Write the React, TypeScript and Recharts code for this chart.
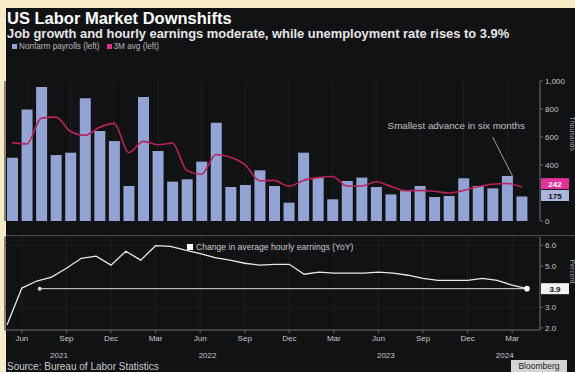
import React from "react";
import {
  ComposedChart,
  LineChart,
  Bar,
  Line,
  XAxis,
  YAxis,
  CartesianGrid,
  ReferenceLine,
  ReferenceDot,
} from "recharts";

const months = [
  "May 2021", "Jun 2021", "Jul 2021", "Aug 2021", "Sep 2021", "Oct 2021", "Nov 2021", "Dec 2021",
  "Jan 2022", "Feb 2022", "Mar 2022", "Apr 2022", "May 2022", "Jun 2022", "Jul 2022", "Aug 2022",
  "Sep 2022", "Oct 2022", "Nov 2022", "Dec 2022", "Jan 2023", "Feb 2023", "Mar 2023", "Apr 2023",
  "May 2023", "Jun 2023", "Jul 2023", "Aug 2023", "Sep 2023", "Oct 2023", "Nov 2023", "Dec 2023",
  "Jan 2024", "Feb 2024", "Mar 2024", "Apr 2024",
];

// Change in nonfarm payrolls, thousands
const payrolls = [
  452, 797, 957, 471, 488, 876, 643, 571, 250, 886, 500, 281, 298, 424, 702, 243, 257, 362,
  250, 131, 488, 310, 155, 286, 310, 243, 190, 214, 250, 171, 179, 305, 250, 233, 321, 175,
];

// Three-month average of payrolls, thousands
const avg3 = [
  560, 550, 735, 742, 639, 612, 669, 697, 488, 569, 545, 556, 360, 334, 475, 456, 401, 287,
  290, 248, 290, 310, 318, 250, 250, 280, 248, 216, 218, 212, 200, 218, 245, 263, 268, 242,
];

// Average hourly earnings, % YoY
const earnings = [
  2.14, 3.93, 4.27, 4.46, 4.89, 5.37, 5.47, 5.04, 5.71, 5.28, 5.98, 5.95, 5.76, 5.6, 5.4, 5.28,
  5.13, 5.04, 5.08, 5.08, 4.6, 4.7, 4.65, 4.65, 4.65, 4.7, 4.65, 4.55, 4.4, 4.3, 4.3, 4.3, 4.4,
  4.3, 4.07, 3.9,
];

const monthTickIdx = [1, 4, 7, 10, 13, 16, 19, 22, 25, 28, 31, 34];
const yearTickPos = [3.5, 13.5, 25.5, 33.5];
const yearLabels = ["2021", "2022", "2023", "2024"];
const payrollTicks = [0, 400, 600, 800, 1000];
const earningsTicks = [2, 3, 5, 6];

const data = months.map((m, i) => ({
  i,
  m,
  payrolls: payrolls[i],
  avg3: avg3[i],
  earnings: earnings[i],
}));

const last = data.length - 1;

const BG = "#111214";
const FONT = "'Liberation Sans', Arial, sans-serif";
const TICK = { fill: "#c8c8c8", fontSize: 8, fontFamily: FONT };
const BAR = "#93a3d4";
const PINK = "#b8235e";

const makeBox =
  (text: string, bg: string, fg: string, dy: number) =>
  (props: any) => {
    const vb = props.viewBox || {};
    const x = (vb.x || 0) + (vb.width || 0) + 1;
    const y = (vb.y || 0) + dy;
    return (
      <g>
        <rect x={x} y={y - 5.5} width={28} height={11} fill={bg} />
        <text
          x={x + 14}
          y={y + 3}
          textAnchor="middle"
          fontSize={8}
          fontFamily={FONT}
          fontWeight="bold"
          fill={fg}
        >
          {text}
        </text>
      </g>
    );
  };

export default function App() {
  return (
    <div
      style={{
        position: "fixed",
        left: 0,
        top: 0,
        width: 575,
        height: 372,
        background: "#f8ebc8",
        overflow: "hidden",
        fontFamily: FONT,
      }}
    >
      <div
        style={{
          position: "absolute",
          left: 6,
          top: 8,
          width: 569,
          height: 364,
          background: BG,
        }}
      />
      <div
        style={{
          position: "absolute",
          left: 7,
          top: 11,
          color: "#ffffff",
          fontWeight: "bold",
          fontSize: 16.5,
          lineHeight: "15px",
          whiteSpace: "nowrap",
        }}
      >
        US Labor Market Downshifts
      </div>
      <div
        style={{
          position: "absolute",
          left: 7,
          top: 28,
          color: "#e6e6e6",
          fontWeight: "bold",
          fontSize: 12.9,
          lineHeight: "12px",
          whiteSpace: "nowrap",
        }}
      >
        Job growth and hourly earnings moderate, while unemployment rate rises to 3.9%
      </div>
      <div
        style={{
          position: "absolute",
          left: 12,
          top: 42,
          color: "#b8b8b8",
          fontSize: 8.2,
          lineHeight: "9px",
          whiteSpace: "nowrap",
          display: "flex",
          alignItems: "center",
        }}
      >
        <span style={{ width: 5, height: 5, background: BAR, display: "inline-block", marginRight: 2 }} />
        <span>Nonfarm payrolls (left)</span>
        <span
          style={{ width: 5, height: 5, background: "#e0308a", display: "inline-block", marginLeft: 7, marginRight: 2 }}
        />
        <span>3M avg (left)</span>
      </div>

      <div style={{ position: "absolute", left: 0, top: 0 }}>
        <ComposedChart width={575} height={230} data={data} margin={{ top: 81, right: 0, left: 5, bottom: 9 }}>
          <CartesianGrid stroke="#1e1f22" horizontal={false} />
          <XAxis
            dataKey="i"
            type="number"
            domain={[-0.5, 35.5]}
            ticks={monthTickIdx}
            padding={{ left: 0, right: 11 }}
            hide
          />
          <YAxis
            orientation="right"
            domain={[0, 1000]}
            ticks={payrollTicks}
            width={35}
            tick={TICK}
            tickSize={3}
            tickMargin={2}
            stroke="#6a6a6a"
            tickFormatter={(v: number) => v.toLocaleString("en-US")}
            label={{
              value: "Thousands",
              angle: 90,
              position: "insideRight",
              offset: 3,
              fill: "#9a9a9a",
              fontSize: 7,
              fontFamily: FONT,
            }}
          />
          <Bar dataKey="payrolls" fill={BAR} barSize={11} isAnimationActive={false} />
          <Line
            dataKey="avg3"
            type="monotone"
            stroke={PINK}
            strokeWidth={1.6}
            dot={false}
            isAnimationActive={false}
          />
          <ReferenceLine
            segment={[
              { x: 33.0, y: 600 },
              { x: 34.4, y: 314 },
            ]}
            stroke="#9a9a9a"
            strokeWidth={1}
          />
          <ReferenceDot
            x={30.5}
            y={680}
            r={1}
            fill="none"
            stroke="none"
            label={{
              value: "Smallest advance in six months",
              position: "center",
              fill: "#c0c0c0",
              fontSize: 9.8,
              fontFamily: FONT,
            }}
          />
          <ReferenceLine y={avg3[last]} stroke="none" label={makeBox(String(avg3[last]), "#e0349a", "#ffffff", -3.5)} />
          <ReferenceLine
            y={payrolls[last]}
            stroke="none"
            label={makeBox(String(payrolls[last]), "#aab6dc", "#111111", -1)}
          />
        </ComposedChart>
      </div>

      <div
        style={{ position: "absolute", left: 6, top: 235, width: 569, height: 1, background: "#4a4a4e" }}
      />

      <div style={{ position: "absolute", left: 0, top: 225 }}>
        <LineChart width={575} height={141} data={data} margin={{ top: 12, right: 0, left: 5, bottom: 6 }}>
          <CartesianGrid stroke="#1e1f22" />
          <XAxis
            dataKey="i"
            type="number"
            domain={[0, 35]}
            ticks={monthTickIdx}
            interval={0}
            padding={{ left: 2, right: 13 }}
            tickFormatter={(v: number) => months[v].slice(0, 3)}
            height={16}
            tick={TICK}
            tickSize={3}
            tickMargin={2}
            stroke="#6a6a6a"
          />
          <XAxis
            xAxisId="yr"
            dataKey="i"
            type="number"
            domain={[0, 35]}
            ticks={yearTickPos}
            interval={0}
            padding={{ left: 2, right: 13 }}
            tickFormatter={(v: number) => yearLabels[yearTickPos.indexOf(v)]}
            axisLine={false}
            tickLine={false}
            height={14}
            tickMargin={0}
            tick={TICK}
          />
          <YAxis
            orientation="right"
            domain={[1.9, 6.4]}
            ticks={earningsTicks}
            width={35}
            tick={TICK}
            tickSize={3}
            tickMargin={2}
            stroke="#6a6a6a"
            tickFormatter={(v: number) => v.toFixed(1)}
            label={{
              value: "Percent",
              angle: 90,
              position: "insideRight",
              offset: 3,
              fill: "#9a9a9a",
              fontSize: 7,
              fontFamily: FONT,
            }}
          />
          <ReferenceLine
            segment={[
              { x: 2.2, y: earnings[last] },
              { x: last, y: earnings[last] },
            ]}
            stroke="#d8d8d8"
            strokeWidth={1}
          />
          <ReferenceDot x={2.2} y={earnings[last]} r={2} fill="#d8d8d8" stroke="none" />
          <Line
            dataKey="earnings"
            type="linear"
            stroke="#e8e8e8"
            strokeWidth={1.3}
            dot={false}
            isAnimationActive={false}
          />
          <ReferenceDot x={last} y={earnings[last]} r={2.8} fill="#ffffff" stroke="none" />
          <ReferenceLine
            y={earnings[last]}
            stroke="none"
            label={makeBox(earnings[last].toFixed(1), "#f2f2f2", "#111111", 0)}
          />
        </LineChart>
      </div>

      <div
        style={{
          position: "absolute",
          left: 187,
          top: 242,
          color: "#c8c8c8",
          fontSize: 8.6,
          whiteSpace: "nowrap",
          display: "flex",
          alignItems: "center",
        }}
      >
        <span style={{ width: 6, height: 6, background: "#ffffff", display: "inline-block", marginRight: 3 }} />
        <span>Change in average hourly earnings (YoY)</span>
      </div>

      <div
        style={{
          position: "absolute",
          left: 7,
          top: 361,
          color: "#c8c8c8",
          fontSize: 10,
          whiteSpace: "nowrap",
        }}
      >
        Source: Bureau of Labor Statistics
      </div>
      <div
        style={{
          position: "absolute",
          left: 511,
          top: 360,
          width: 56,
          height: 12,
          background: "#d4d4d4",
          color: "#222",
          fontSize: 8.5,
          lineHeight: "12px",
          textAlign: "center",
        }}
      >
        Bloomberg
      </div>
    </div>
  );
}
